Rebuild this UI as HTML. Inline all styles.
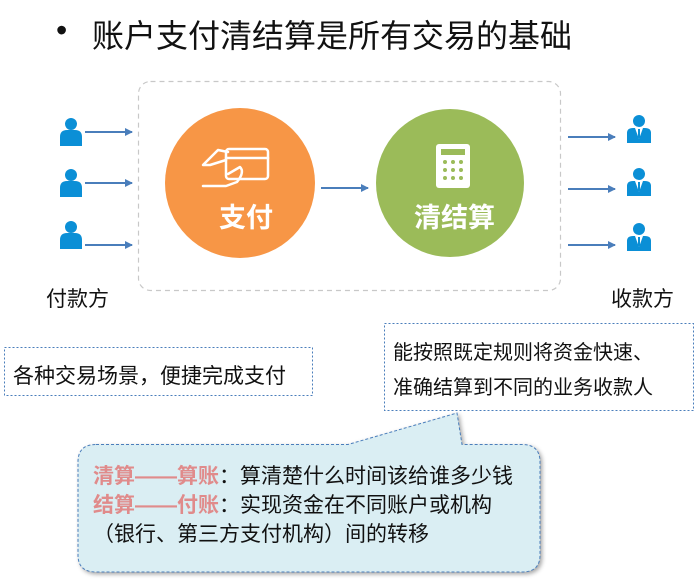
<!DOCTYPE html>
<html><head><meta charset="utf-8"><style>
body{margin:0;width:694px;height:579px;background:#fff;overflow:hidden;position:relative;font-family:"Liberation Sans","Noto Sans CJK SC",sans-serif;}
.t{position:absolute;white-space:nowrap;}
</style></head><body>
<svg width="694" height="579" style="position:absolute;left:0;top:0">
<defs>
<marker id="a" markerWidth="8" markerHeight="8" refX="7" refY="4" orient="auto" markerUnits="userSpaceOnUse"><path d="M0,0 L8,4 L0,8 z" fill="#4a7ebb"/></marker>
<g id="p"><circle cx="11" cy="7" r="6" fill="#0b8fd6"/><path d="M0,29 L0,20 Q0,13 7,13 L15,13 Q22,13 22,20 L22,29 z" fill="#0b8fd6"/></g>
<g id="q"><circle cx="12" cy="6" r="6" fill="#0b8fd6"/><path d="M0,28 L0,18 Q0,13 6,13 L18,13 Q24,13 24,18 L24,28 z" fill="#0b8fd6"/><path d="M8,13 L12,24 L16,13 z" fill="#fff"/><path d="M11,14 L13,14 L13,22 L12,24 L11,22z" fill="#0b8fd6"/></g>
</defs>
<rect x="138.5" y="81.5" width="422" height="209" rx="12" fill="none" stroke="#c8c8c8" stroke-width="1.2" stroke-dasharray="5,4"/>
<circle cx="240" cy="183" r="75" fill="#f79646"/>
<circle cx="450" cy="183" r="74" fill="#9bbb59"/>
<g stroke="#4a7ebb" stroke-width="2" marker-end="url(#a)">
<line x1="85" y1="132" x2="132" y2="132"/><line x1="85" y1="183" x2="132" y2="183"/><line x1="85" y1="245" x2="132" y2="245"/>
<line x1="321" y1="188" x2="368" y2="188"/>
<line x1="568" y1="137" x2="615" y2="137"/><line x1="568" y1="189" x2="615" y2="189"/><line x1="568" y1="245" x2="615" y2="245"/>
</g>
<use href="#p" x="60" y="117"/><use href="#p" x="60" y="168"/><use href="#p" x="60" y="220"/>
<use href="#q" x="627" y="115"/><use href="#q" x="627" y="168"/><use href="#q" x="627" y="223"/>
<g fill="none" stroke="#fff" stroke-width="2.5" stroke-linecap="round" stroke-linejoin="round">
<rect x="226" y="149" width="42" height="30" rx="3"/>
<line x1="226" y1="158" x2="268" y2="158"/>
<path d="M203,186 L226,186 L237,182 Q245,172 240,167 L228,174 M228,152 L218,150 L203,165 L210,165 L226,160"/>
</g>
<rect x="436" y="144" width="34" height="44" rx="3" fill="#fff"/>
<rect x="441" y="149" width="24" height="6" fill="#9bbb59"/>
<g fill="#9bbb59"><circle cx="445" cy="162" r="2"/><circle cx="453" cy="162" r="2"/><circle cx="461" cy="162" r="2"/><circle cx="445" cy="170" r="2"/><circle cx="453" cy="170" r="2"/><circle cx="461" cy="170" r="2"/><circle cx="445" cy="178" r="2"/><circle cx="453" cy="178" r="2"/><circle cx="461" cy="178" r="2"/></g>
<rect x="4.5" y="347.5" width="308" height="48" fill="none" stroke="#4a7ebb" stroke-dasharray="2,2"/>
<rect x="384.5" y="323.5" width="309" height="87" fill="none" stroke="#4a7ebb" stroke-dasharray="2,2"/>
<path d="M96,444.5 L348,444.5 L457,413 L462,444.5 L522,444.5 Q540,444.5 540,462 L540,555 Q540,572 522,572 L96,572 Q78,572 78,555 L78,462 Q78,444.5 96,444.5 z" fill="#daeef3" stroke="#4a7ebb" stroke-dasharray="3,2" style="filter:drop-shadow(2px 2px 2px rgba(0,0,0,.35))"/>
</svg>
<div class="t" style="left:56px;top:12px;font-size:32px;color:#111">•</div>
<div class="t" style="left:92px;top:11px;font-size:32px;color:#111">账户支付清结算是所有交易的基础</div>
<div class="t" style="left:219px;top:196px;font-size:27px;font-weight:bold;color:#fff">支付</div>
<div class="t" style="left:414px;top:196px;font-size:27px;font-weight:bold;color:#fff">清结算</div>
<div class="t" style="left:46px;top:283px;font-size:21px;color:#111">付款方</div>
<div class="t" style="left:611px;top:283px;font-size:21px;color:#111">收款方</div>
<div class="t" style="left:13px;top:360px;font-size:21px;color:#111">各种交易场景，便捷完成支付</div>
<div class="t" style="left:393px;top:336px;font-size:20px;color:#111;line-height:35px">能按照既定规则将资金快速、<br>准确结算到不同的业务收款人</div>
<div class="t" style="left:93px;top:462px;font-size:21px;color:#111;line-height:29px"><b style="color:#e08b8b">清算——算账</b>：算清楚什么时间该给谁多少钱<br><b style="color:#e08b8b">结算——付账</b>：实现资金在不同账户或机构<br>（银行、第三方支付机构）间的转移</div>
</body></html>
